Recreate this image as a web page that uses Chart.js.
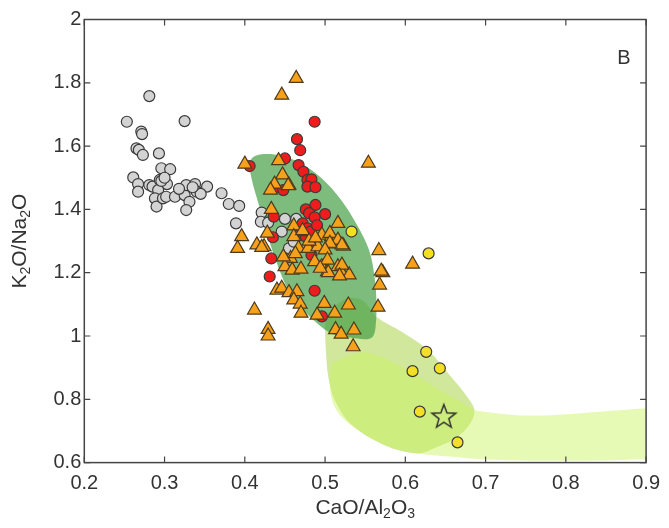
<!DOCTYPE html>
<html>
<head>
<meta charset="utf-8">
<script src="https://cdn.jsdelivr.net/npm/chart.js@4.4.1/dist/chart.umd.min.js"></script>
<style>
  html, body { margin: 0; padding: 0; background: #fff; }
  #wrap { width: 669px; height: 528px; }
</style>
</head>
<body>
<div id="wrap"><canvas id="chart" width="669" height="528"></canvas></div>
<script>
// axis ticks
var xTicks = [0.2, 0.3, 0.4, 0.5, 0.6, 0.7, 0.8, 0.9];
var yTicks = [0.6, 0.8, 1.0, 1.2, 1.4, 1.6, 1.8, 2.0];

// sample groups, [CaO/Al2O3, K2O/Na2O]
var greyPoints = [
  [0.281,1.758],[0.253,1.677],[0.325,1.679],[0.271,1.646],[0.272,1.638],[0.265,1.593],[0.268,1.588],
  [0.273,1.572],[0.293,1.577],[0.296,1.53],[0.307,1.527],[0.261,1.501],[0.267,1.48],[0.267,1.456],
  [0.281,1.477],[0.285,1.472],[0.294,1.493],[0.298,1.482],[0.303,1.48],[0.292,1.461],[0.288,1.435],
  [0.29,1.409],[0.298,1.435],[0.302,1.44],[0.313,1.44],[0.325,1.445],[0.327,1.477],[0.338,1.48],
  [0.353,1.472],[0.34,1.456],[0.345,1.449],[0.331,1.424],[0.327,1.398],[0.371,1.451],[0.38,1.417],
  [0.393,1.411],[0.389,1.356],[0.421,1.39],[0.42,1.361],[0.429,1.358],[0.45,1.37],[0.464,1.37],
  [0.446,1.33],[0.455,1.277],[0.461,1.298],[0.296,1.49],[0.3,1.5],[0.335,1.47],[0.318,1.465]
];
var redPoints = [
  [0.487,1.677],[0.465,1.622],[0.469,1.587],[0.45,1.561],[0.406,1.537],[0.467,1.54],[0.473,1.519],
  [0.478,1.493],[0.483,1.495],[0.478,1.472],[0.488,1.47],[0.436,1.467],[0.448,1.461],[0.488,1.414],
  [0.476,1.4],[0.48,1.388],[0.5,1.385],[0.487,1.375],[0.436,1.377],[0.472,1.356],[0.478,1.34],
  [0.468,1.319],[0.476,1.314],[0.435,1.312],[0.485,1.288],[0.433,1.245],[0.431,1.188],[0.487,1.143],
  [0.496,1.062],[0.483,1.256],[0.482,1.33],[0.49,1.35]
];
var orangePoints = [
  [0.464,1.814],[0.446,1.761],[0.4,1.543],[0.442,1.554],[0.554,1.546],[0.447,1.509],[0.437,1.48],
  [0.455,1.477],[0.432,1.461],[0.433,1.4],[0.461,1.348],[0.472,1.33],[0.516,1.356],[0.428,1.325],
  [0.396,1.314],[0.461,1.314],[0.496,1.319],[0.508,1.314],[0.523,1.284],[0.415,1.288],[0.424,1.282],
  [0.391,1.277],[0.467,1.277],[0.479,1.277],[0.491,1.282],[0.507,1.291],[0.567,1.27],[0.457,1.245],
  [0.45,1.219],[0.459,1.208],[0.47,1.211],[0.487,1.235],[0.496,1.219],[0.503,1.203],[0.516,1.219],
  [0.521,1.198],[0.53,1.193],[0.572,1.2],[0.568,1.161],[0.609,1.227],[0.44,1.145],[0.446,1.151],
  [0.455,1.137],[0.465,1.14],[0.461,1.114],[0.469,1.101],[0.499,1.103],[0.529,1.098],[0.412,1.082],
  [0.566,1.091],[0.47,1.072],[0.49,1.066],[0.512,1.072],[0.506,1.324],[0.516,1.303],[0.521,1.288],
  [0.506,1.293],[0.5,1.272],[0.503,1.24],[0.521,1.224],[0.504,1.2],[0.518,1.19],[0.494,1.214],
  [0.513,1.02],[0.52,1.006],[0.536,1.019],[0.535,0.966],[0.429,1.021],[0.429,1.0],[0.421,1.28],
  [0.454,1.475],[0.472,1.333],[0.57,1.205],[0.448,1.25],[0.463,1.26],[0.48,1.3],[0.488,1.31]
];
var yellowPoints = [
  [0.533,1.33],[0.629,1.261],[0.626,0.95],[0.643,0.898],[0.609,0.889],[0.618,0.761],[0.665,0.664]
];
var starPoints = [[0.648,0.747]];

// field outlines
var darkField = [
  [0.405,1.54],[0.41,1.565],[0.425,1.575],[0.445,1.57],[0.47,1.545],[0.495,1.5],[0.52,1.43],
  [0.54,1.35],[0.555,1.27],[0.562,1.18],[0.564,1.1],[0.563,1.03],[0.56,1.0],[0.553,0.99],
  [0.53,0.995],[0.51,1.005],[0.49,1.04],[0.47,1.09],[0.455,1.14],[0.44,1.23],[0.428,1.32],
  [0.418,1.41],[0.41,1.48],[0.405,1.54]
];
var lightField = [
  [0.5,1.06],[0.515,1.1],[0.53,1.12],[0.548,1.11],[0.564,1.061],[0.595,1.014],[0.628,0.956],
  [0.657,0.871],[0.677,0.808],[0.686,0.766],[0.681,0.724],[0.665,0.682],[0.636,0.645],[0.615,0.629],
  [0.574,0.655],[0.533,0.72],[0.512,0.798],[0.504,0.871],[0.501,0.956],[0.5,1.01],[0.5,1.06]
];
var paleField = [
  [0.508,0.914],[0.533,0.94],[0.554,0.947],[0.595,0.903],[0.636,0.84],[0.665,0.798],[0.686,0.766],
  [0.698,0.761],[0.739,0.75],[0.78,0.75],[0.842,0.761],[0.9,0.772],[0.905,0.77],[0.905,0.62],
  [0.884,0.61],[0.78,0.606],[0.698,0.61],[0.656,0.619],[0.615,0.629],[0.587,0.645],[0.554,0.682],
  [0.524,0.735],[0.51,0.787],[0.506,0.85],[0.508,0.914]
];

function toXY(list) {
  return list.map(function (p) { return { x: p[0], y: p[1] }; });
}

function makeStar() {
  var c = document.createElement('canvas');
  c.width = 30; c.height = 30;
  var g = c.getContext('2d');
  var cx = 15, cy = 16, R = 12.5, r = 5.2;
  g.beginPath();
  for (var i = 0; i < 10; i++) {
    var a = -Math.PI / 2 + i * Math.PI / 5;
    var rr = i % 2 === 0 ? R : r;
    g.lineTo(cx + rr * Math.cos(a), cy + rr * Math.sin(a));
  }
  g.closePath();
  g.strokeStyle = '#333';
  g.lineWidth = 1.5;
  g.stroke();
  return c;
}

function field(data, color, order) {
  return {
    data: toXY(data),
    showLine: true,
    fill: 'shape',
    backgroundColor: color,
    borderWidth: 0,
    borderColor: 'rgba(0,0,0,0)',
    pointRadius: 0,
    tension: 0.35,
    order: order
  };
}

function samples(data, fill, style, radius, border, order) {
  return {
    data: toXY(data),
    showLine: false,
    pointStyle: style,
    pointRadius: radius,
    pointBackgroundColor: fill,
    pointBorderColor: border,
    pointBorderWidth: 1.2,
    order: order
  };
}

function drawText(ctx, parts, x, y) {
  var big = '21px "Liberation Sans", Arial, sans-serif';
  var small = '14px "Liberation Sans", Arial, sans-serif';
  var w = 0;
  parts.forEach(function (p) {
    ctx.font = p[1] ? small : big;
    w += ctx.measureText(p[0]).width;
  });
  var cx = x - w / 2;
  parts.forEach(function (p) {
    ctx.font = p[1] ? small : big;
    ctx.fillText(p[0], cx, p[1] ? y + 6 : y);
    cx += ctx.measureText(p[0]).width;
  });
}

var framePlugin = {
  id: 'frame',
  afterDraw: function (chart) {
    var ctx = chart.ctx;
    var a = chart.chartArea;
    var xs = chart.scales.x, ys = chart.scales.y;
    ctx.save();
    ctx.strokeStyle = '#444';
    ctx.lineWidth = 1.5;
    ctx.strokeRect(a.left, a.top, a.right - a.left, a.bottom - a.top);
    ctx.lineWidth = 1.2;
    ctx.beginPath();
    xTicks.forEach(function (v) {
      var px = xs.getPixelForValue(v);
      ctx.moveTo(px, a.bottom); ctx.lineTo(px, a.bottom - 6);
      ctx.moveTo(px, a.top); ctx.lineTo(px, a.top + 6);
    });
    yTicks.forEach(function (v) {
      var py = ys.getPixelForValue(v);
      ctx.moveTo(a.left, py); ctx.lineTo(a.left + 6, py);
      ctx.moveTo(a.right, py); ctx.lineTo(a.right - 6, py);
    });
    ctx.stroke();

    ctx.fillStyle = '#333';
    ctx.textBaseline = 'middle';
    drawText(ctx, [['CaO/Al', 0], ['2', 1], ['O', 0], ['3', 1]], (a.left + a.right) / 2, 508);
    ctx.save();
    ctx.translate(20, (a.top + a.bottom) / 2);
    ctx.rotate(-Math.PI / 2);
    drawText(ctx, [['K', 0], ['2', 1], ['O/Na', 0], ['2', 1], ['O', 0]], 0, 0);
    ctx.restore();

    ctx.font = '20px "Liberation Sans", Arial, sans-serif';
    ctx.textAlign = 'center';
    ctx.fillText('B', 624, 58);
    ctx.restore();
  }
};

var ctx = document.getElementById('chart').getContext('2d');
new Chart(ctx, {
  type: 'scatter',
  data: {
    datasets: [
      field(lightField, 'rgb(209,231,155)', 12),
      field(paleField, 'rgba(200,245,90,0.45)', 11),
      field(darkField, 'rgba(70,160,70,0.7)', 10),
      samples(greyPoints, '#d3d3d3', 'circle', 5.5, '#3a3a3a', 6),
      samples(redPoints, '#ee1c1c', 'circle', 5.5, '#3a3a3a', 5),
      samples(orangePoints, '#f7a019', 'triangle', 8, '#4d3b1f', 4),
      samples(yellowPoints, '#f3df24', 'circle', 5.5, '#3a3a3a', 3),
      {
        data: toXY(starPoints),
        showLine: false,
        pointStyle: makeStar(),
        order: 2
      }
    ]
  },
  options: {
    responsive: false,
    animation: false,
    layout: { padding: { left: 0, right: 19, top: 19.5, bottom: 0 } },
    plugins: {
      legend: { display: false },
      tooltip: { enabled: false }
    },
    scales: {
      x: {
        type: 'linear',
        min: 0.2,
        max: 0.9,
        afterBuildTicks: function (scale) {
          scale.ticks = xTicks.map(function (v) { return { value: v }; });
        },
        afterFit: function (scale) { scale.height = 65.4; },
        grid: { display: false, drawTicks: false },
        border: { display: false },
        ticks: {
          padding: 9,
          color: '#333',
          font: { family: '"Liberation Sans", Arial, sans-serif', size: 20 },
          maxRotation: 0,
          callback: function (v) { return String(+Number(v).toFixed(1)); }
        }
      },
      y: {
        type: 'linear',
        min: 0.6,
        max: 2,
        afterBuildTicks: function (scale) {
          scale.ticks = yTicks.map(function (v) { return { value: v }; });
        },
        afterFit: function (scale) { scale.width = 84.3; },
        grid: { display: false, drawTicks: false },
        border: { display: false },
        ticks: {
          padding: 3,
          color: '#333',
          font: { family: '"Liberation Sans", Arial, sans-serif', size: 20 },
          callback: function (v) { return String(+Number(v).toFixed(1)); }
        }
      }
    }
  },
  plugins: [framePlugin]
});
</script>
</body>
</html>
